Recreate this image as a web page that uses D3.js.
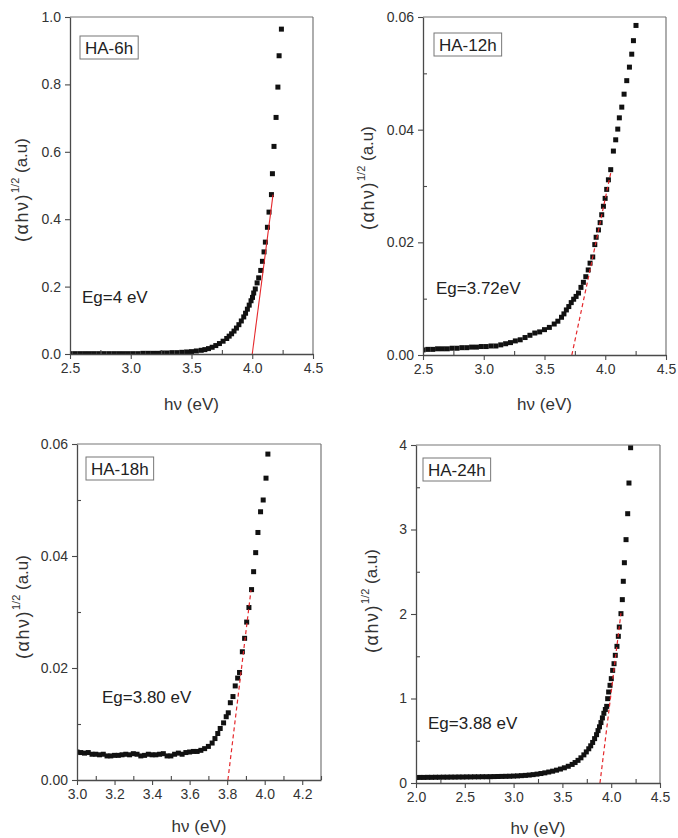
<!DOCTYPE html>
<html>
<head>
<meta charset="utf-8">
<script src="https://cdn.jsdelivr.net/npm/d3@7"></script>
<style>
  html, body { margin: 0; padding: 0; background: #fff; }
  svg { display: block; font-family: "Liberation Sans", Arial, sans-serif; }
</style>
</head>
<body>
<svg id="chart" width="678" height="838"></svg>
<script>
// ---------------- DATA ----------------
const panelNames = ["HA-6h", "HA-12h", "HA-18h", "HA-24h"];
const bandGaps = ["Eg=4 eV", "Eg=3.72eV", "Eg=3.80 eV", "Eg=3.88 eV"];

const ha6 = [
  [2.50,0.001],[2.54,0.001],[2.58,0.001],[2.62,0.001],[2.66,0.001],[2.70,0.001],[2.74,0.001],
  [2.78,0.001],[2.82,0.001],[2.86,0.001],[2.90,0.001],[2.94,0.001],[2.98,0.001],[3.02,0.001],
  [3.06,0.001],[3.10,0.002],[3.14,0.002],[3.18,0.002],[3.22,0.002],[3.26,0.003],[3.30,0.003],
  [3.34,0.004],[3.38,0.004],[3.42,0.005],[3.46,0.006],[3.50,0.007],[3.54,0.009],[3.58,0.011],
  [3.61,0.013],[3.64,0.016],[3.67,0.020],[3.70,0.025],[3.73,0.031],[3.76,0.038],[3.79,0.046],
  [3.81,0.053],[3.83,0.060],[3.85,0.068],[3.87,0.077],[3.89,0.087],[3.91,0.098],[3.93,0.110],
  [3.945,0.121],[3.96,0.133],[3.975,0.145],[3.99,0.158],[4.002,0.168],[4.012,0.181],
  [4.025,0.193],[4.040,0.211],[4.053,0.226],[4.070,0.248],[4.084,0.275],[4.097,0.303],
  [4.108,0.332],[4.125,0.376],[4.138,0.421],[4.158,0.473],[4.166,0.535],[4.179,0.616],
  [4.196,0.702],[4.211,0.792],[4.221,0.885],[4.240,0.964]
];

const ha12 = [
  [2.50,0.0009],[2.54,0.0010],[2.58,0.0010],[2.62,0.0011],[2.66,0.0011],[2.70,0.0011],
  [2.74,0.0012],[2.78,0.0012],[2.82,0.0013],[2.86,0.0013],[2.90,0.0014],[2.94,0.0014],
  [2.98,0.0015],[3.02,0.0015],[3.06,0.0016],[3.10,0.0016],[3.14,0.0018],[3.18,0.0020],
  [3.22,0.0022],[3.26,0.0025],[3.30,0.0027],[3.34,0.0031],[3.38,0.0035],[3.42,0.0039],
  [3.46,0.0041],[3.50,0.0045],[3.54,0.0049],[3.58,0.0055],[3.61,0.0060],[3.64,0.0067],
  [3.66,0.0073],[3.68,0.0080],[3.70,0.0086],[3.72,0.0093],[3.74,0.0099],[3.76,0.0104],
  [3.78,0.0110],[3.80,0.0120],[3.82,0.0129],[3.84,0.0139],[3.86,0.0151],[3.875,0.0163],
  [3.897,0.0174],[3.914,0.0196],[3.925,0.0209],[3.944,0.0222],[3.958,0.0235],[3.971,0.0249],
  [3.985,0.0264],[3.999,0.0278],[4.012,0.0294],[4.026,0.0311],[4.045,0.0329],[4.067,0.0362],
  [4.086,0.0382],[4.103,0.0401],[4.116,0.0421],[4.136,0.0440],[4.155,0.0463],[4.177,0.0487],
  [4.199,0.0511],[4.218,0.0534],[4.232,0.0558],[4.253,0.0585]
];

const ha18 = [
  [3.00,0.0050],[3.02,0.0049],[3.04,0.0048],[3.06,0.0049],[3.08,0.0046],[3.10,0.0046],
  [3.12,0.0045],[3.14,0.0046],[3.16,0.0043],[3.18,0.0043],[3.20,0.0044],[3.22,0.0044],
  [3.24,0.0045],[3.26,0.0046],[3.28,0.0045],[3.30,0.0047],[3.32,0.0046],[3.34,0.0043],
  [3.36,0.0044],[3.38,0.0046],[3.40,0.0045],[3.42,0.0045],[3.44,0.0046],[3.46,0.0047],
  [3.48,0.0043],[3.50,0.0043],[3.52,0.0046],[3.54,0.0048],[3.56,0.0046],[3.58,0.0049],
  [3.60,0.0050],[3.62,0.0051],[3.64,0.0051],[3.66,0.0053],[3.68,0.0056],[3.70,0.0060],
  [3.72,0.0066],[3.735,0.0074],[3.75,0.0083],[3.763,0.0092],[3.781,0.0102],[3.795,0.0113],
  [3.806,0.0120],[3.817,0.0138],[3.831,0.0149],[3.843,0.0168],[3.856,0.0182],[3.866,0.0192],
  [3.881,0.0229],[3.893,0.0253],[3.904,0.0282],[3.916,0.0308],[3.930,0.0340],[3.941,0.0372],
  [3.952,0.0406],[3.964,0.0442],[3.978,0.0479],[3.992,0.0500],[4.007,0.0539],[4.017,0.0582]
];

const ha24 = [
  [2.00,0.065],[2.04,0.066],[2.08,0.066],[2.12,0.067],[2.16,0.067],[2.20,0.068],[2.24,0.068],
  [2.28,0.069],[2.32,0.069],[2.36,0.070],[2.40,0.070],[2.44,0.071],[2.48,0.071],[2.52,0.072],
  [2.56,0.072],[2.60,0.073],[2.64,0.073],[2.68,0.074],[2.72,0.074],[2.76,0.075],[2.80,0.076],
  [2.84,0.077],[2.88,0.078],[2.92,0.079],[2.96,0.080],[3.00,0.082],[3.04,0.084],[3.08,0.087],
  [3.12,0.090],[3.16,0.094],[3.20,0.099],[3.24,0.105],[3.28,0.112],[3.32,0.120],[3.36,0.130],
  [3.40,0.140],[3.44,0.152],[3.48,0.165],[3.52,0.180],[3.56,0.198],[3.60,0.220],[3.63,0.242],
  [3.66,0.268],[3.69,0.298],[3.72,0.333],[3.745,0.368],[3.77,0.405],[3.79,0.440],[3.81,0.480],
  [3.83,0.525],[3.85,0.572],[3.865,0.620],[3.88,0.665],[3.895,0.715],[3.91,0.770],[3.925,0.825],
  [3.940,0.870],[3.954,0.907],[3.964,0.998],[3.974,1.077],[3.988,1.156],[4.001,1.235],
  [4.015,1.333],[4.029,1.412],[4.042,1.511],[4.059,1.617],[4.073,1.736],[4.083,1.846],
  [4.100,2.004],[4.114,2.170],[4.124,2.387],[4.135,2.607],[4.152,2.880],[4.169,3.187],
  [4.182,3.550],[4.199,3.968]
];

// Tauc fit lines: [x0, y0], [x1, y1]
const fit6  = [[4.000, 0], [4.171, 0.473]];
const fit12 = [[3.725, 0], [4.045, 0.0323]];
const fit18 = [[3.804, 0], [3.927, 0.0339]];
const fit24 = [[3.885, 0], [4.100, 2.01]];

// Axis domains and ticks
const xDomains = [[2.5, 4.5], [2.5, 4.5], [3.0, 4.3], [2.0, 4.5]];
const yDomains = [[0, 1.0], [0, 0.06], [0, 0.06], [0, 4]];
const xTicks = [
  [2.5, 3.0, 3.5, 4.0, 4.5],
  [2.5, 3.0, 3.5, 4.0, 4.5],
  [3.0, 3.2, 3.4, 3.6, 3.8, 4.0, 4.2],
  [2.0, 2.5, 3.0, 3.5, 4.0, 4.5]
];
const xMinorTicks = [
  [2.75, 3.25, 3.75, 4.25],
  [2.75, 3.25, 3.75, 4.25],
  [3.1, 3.3, 3.5, 3.7, 3.9, 4.1, 4.3],
  [2.25, 2.75, 3.25, 3.75, 4.25]
];
const yTicks = [
  [0, 0.2, 0.4, 0.6, 0.8, 1.0],
  [0, 0.02, 0.04, 0.06],
  [0, 0.02, 0.04, 0.06],
  [0, 1, 2, 3, 4]
];
const yMinorTicks = [
  [],
  [0.01, 0.03, 0.05],
  [0.01, 0.03, 0.05],
  [0.5, 1.5, 2.5, 3.5]
];
const xTickFormats = [".1f", ".1f", ".1f", ".1f"];
const yTickFormats = [".1f", ".2f", ".2f", ".0f"];
const fitDashed = [false, true, true, true];

const series = [ha6, ha12, ha18, ha24];
const fits = [fit6, fit12, fit18, fit24];

// ---------------- LAYOUT ----------------
const layout = [
  { left: 70,  right: 313, top: 17,  bottom: 354, yTitleX: 23,  yTitleY: 190, xTitleDy: 56, label: [80, 36],  eg: [82, 303] },
  { left: 423, right: 666, top: 17,  bottom: 355, yTitleX: 369, yTitleY: 178, xTitleDy: 55, label: [434, 33], eg: [436, 294] },
  { left: 77,  right: 321, top: 444, bottom: 780, yTitleX: 24,  yTitleY: 607, xTitleDy: 52, label: [86, 457], eg: [102, 703] },
  { left: 416, right: 660, top: 445, bottom: 783, yTitleX: 373, yTitleY: 601, xTitleDy: 51, label: [423, 458], eg: [428, 729] }
];

const svg = d3.select("#chart");
const axisColor = "#4a4a4a";
const textColor = "#333";
const fontFam = "Liberation Sans, Arial, sans-serif";

series.forEach((data, i) => {
  const L = layout[i];
  const x = d3.scaleLinear().domain(xDomains[i]).range([L.left, L.right]);
  const y = d3.scaleLinear().domain(yDomains[i]).range([L.bottom, L.top]);
  const g = svg.append("g");

  const clipId = "clip" + i;
  svg.append("clipPath").attr("id", clipId).append("rect")
    .attr("x", L.left).attr("y", L.top - 6)
    .attr("width", L.right - L.left + 6).attr("height", L.bottom - L.top + 6);

  // panel label box
  const lblG = g.append("g");
  const lblRect = lblG.append("rect");
  const lbl = lblG.append("text")
    .attr("x", L.label[0] + 5).attr("y", L.label[1] + 18)
    .attr("fill", "#222").attr("font-size", 17)
    .text(panelNames[i]);
  const bb = lbl.node().getBBox();
  lblRect.attr("x", L.label[0]).attr("y", L.label[1])
    .attr("width", bb.width + 10).attr("height", 23)
    .attr("fill", "#fff").attr("stroke", "#777").attr("stroke-width", 1);

  // band gap text
  g.append("text")
    .attr("x", L.eg[0]).attr("y", L.eg[1])
    .attr("fill", "#222").attr("font-size", 17)
    .text(bandGaps[i]);

  // data markers
  g.append("g").attr("clip-path", `url(#${clipId})`)
    .selectAll("rect").data(data).join("rect")
    .attr("x", d => x(d[0]) - 2.5)
    .attr("y", d => y(d[1]) - 2.5)
    .attr("width", 5).attr("height", 5)
    .attr("fill", "#111");

  // fit line
  const f = fits[i];
  g.append("line")
    .attr("x1", x(f[0][0])).attr("y1", y(f[0][1]))
    .attr("x2", x(f[1][0])).attr("y2", y(f[1][1]))
    .attr("stroke", "#e5282c")
    .attr("stroke-width", fitDashed[i] ? 1.2 : 1.1)
    .attr("stroke-dasharray", fitDashed[i] ? "4,3" : null);

  // frame (top & right)
  g.append("line").attr("x1", L.left).attr("x2", L.right).attr("y1", L.top).attr("y2", L.top)
    .attr("stroke", "#777").attr("stroke-width", 1.2);
  g.append("line").attr("x1", L.right).attr("x2", L.right).attr("y1", L.top).attr("y2", L.bottom)
    .attr("stroke", "#777").attr("stroke-width", 1.2);

  // x axis
  const xAxis = d3.axisBottom(x).tickValues(xTicks[i]).tickFormat(d3.format(xTickFormats[i]))
    .tickSize(5).tickSizeOuter(0).tickPadding(4);
  const gx = g.append("g").attr("transform", `translate(0,${L.bottom})`).call(xAxis);
  gx.select(".domain").attr("stroke", axisColor).attr("stroke-width", 1.3);
  gx.selectAll(".tick line").attr("stroke", axisColor).attr("stroke-width", 1.1);
  gx.selectAll(".tick text").attr("fill", textColor).attr("font-size", 14)
    .attr("font-family", fontFam);
  const xMinor = d3.axisBottom(x).tickValues(xMinorTicks[i]).tickFormat("").tickSize(-4).tickSizeOuter(0);
  const gxm = g.append("g").attr("transform", `translate(0,${L.bottom})`).call(xMinor);
  gxm.select(".domain").remove();
  gxm.selectAll(".tick line").attr("stroke", axisColor).attr("stroke-width", 1.1);

  // y axis
  const yAxis = d3.axisLeft(y).tickValues(yTicks[i]).tickFormat(d3.format(yTickFormats[i]))
    .tickSize(5).tickSizeOuter(0).tickPadding(4);
  const gy = g.append("g").attr("transform", `translate(${L.left},0)`).call(yAxis);
  gy.select(".domain").attr("stroke", axisColor).attr("stroke-width", 1.3);
  gy.selectAll(".tick line").attr("stroke", axisColor).attr("stroke-width", 1.1);
  gy.selectAll(".tick text").attr("fill", textColor).attr("font-size", 14)
    .attr("font-family", fontFam);
  if (yMinorTicks[i].length) {
    const yMinor = d3.axisLeft(y).tickValues(yMinorTicks[i]).tickFormat("").tickSize(-4).tickSizeOuter(0);
    const gym = g.append("g").attr("transform", `translate(${L.left},0)`).call(yMinor);
    gym.select(".domain").remove();
    gym.selectAll(".tick line").attr("stroke", axisColor).attr("stroke-width", 1.1);
  }

  // x title
  g.append("text")
    .attr("x", (L.left + L.right) / 2).attr("y", L.bottom + L.xTitleDy)
    .attr("text-anchor", "middle").attr("fill", textColor).attr("font-size", 17)
    .text("hν (eV)");

  // y title
  const yt = g.append("text")
    .attr("transform", `translate(${L.yTitleX},${L.yTitleY}) rotate(-90)`)
    .attr("text-anchor", "middle").attr("fill", textColor).attr("font-size", 17)
    .attr("dominant-baseline", "middle");
  yt.append("tspan").attr("font-size", 18).attr("letter-spacing", 1.5).text("(αhν)");
  yt.append("tspan").attr("font-size", 11).attr("dy", -7).text("1/2");
  yt.append("tspan").attr("dy", 7).text(" (a.u)");
});
</script>
</body>
</html>
